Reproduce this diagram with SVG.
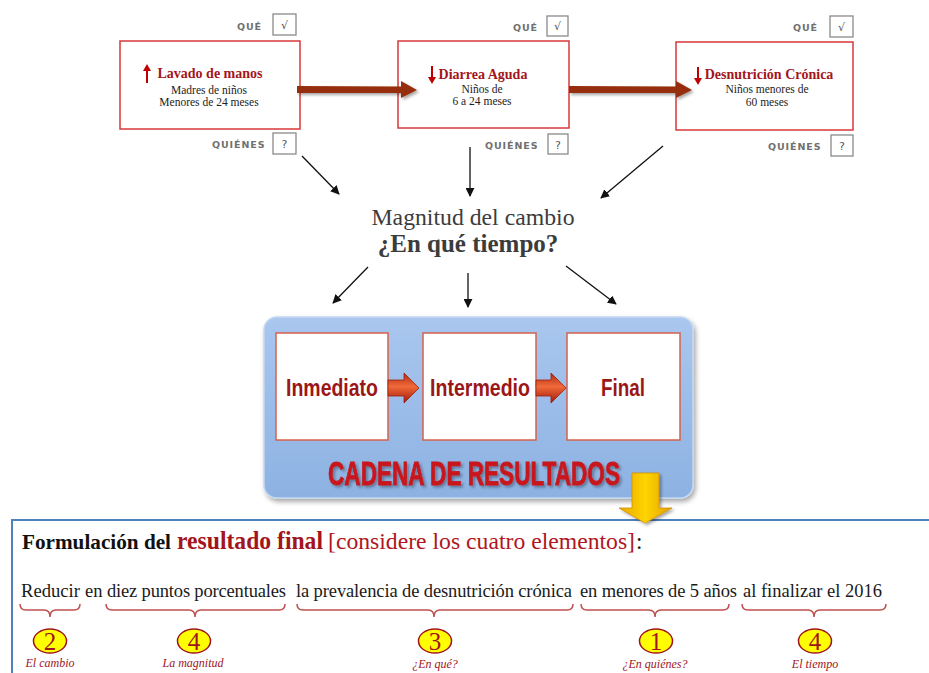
<svg xmlns="http://www.w3.org/2000/svg" width="929" height="673" viewBox="0 0 929 673">
<defs>
<marker id="ah" viewBox="0 0 10 10" refX="9" refY="5" markerWidth="9" markerHeight="9" markerUnits="userSpaceOnUse" orient="auto">
<path d="M0,0 L10,5 L0,10 z" fill="#111"/>
</marker>
<linearGradient id="blueG" x1="0" y1="0" x2="0" y2="1">
<stop offset="0" stop-color="#a9c7ef"/>
<stop offset="1" stop-color="#8db2e2"/>
</linearGradient>
<linearGradient id="redArr" x1="0" y1="0" x2="0" y2="1">
<stop offset="0" stop-color="#b02a10"/>
<stop offset="0.45" stop-color="#f06a3a"/>
<stop offset="1" stop-color="#a01808"/>
</linearGradient>
<linearGradient id="yelArr" x1="0" y1="0" x2="1" y2="0">
<stop offset="0" stop-color="#e8a800"/>
<stop offset="0.5" stop-color="#ffd400"/>
<stop offset="1" stop-color="#e0a000"/>
</linearGradient>
<filter id="sh" x="-10%" y="-10%" width="130%" height="130%">
<feDropShadow dx="2" dy="3" stdDeviation="2.5" flood-color="#000" flood-opacity="0.35"/>
</filter>
<filter id="shs" x="-10%" y="-30%" width="130%" height="180%">
<feDropShadow dx="2" dy="2" stdDeviation="1.5" flood-color="#000" flood-opacity="0.35"/>
</filter>
</defs>
<style>
.topbox{fill:#fff;stroke:#d9383a;stroke-width:1.5}
.ttl{font-family:"Liberation Serif",serif;font-weight:bold;font-size:14px;fill:#a3151b}
.sub{font-family:"Liberation Serif",serif;font-size:11.5px;fill:#222}
.lbl{font-family:"DejaVu Sans",sans-serif;font-weight:bold;font-size:9.5px;fill:#707070;letter-spacing:0.9px}
.chk{fill:#fff;stroke:#8a8a8a;stroke-width:1.3}
.chkt{font-family:"DejaVu Sans",sans-serif;font-size:11px;fill:#555}
.conn{stroke:#111;stroke-width:1.3;fill:none}
.inner{fill:#fff;stroke:#d8604a;stroke-width:1.5}
.innt{font-family:"Liberation Sans",sans-serif;font-weight:bold;font-size:23px;fill:#9b1616}
.sent{font-family:"Liberation Serif",serif;font-size:18.5px;fill:#1a1a1a}
.brace{fill:none;stroke:#c0504d;stroke-width:1.5}
.num{fill:#ffff00;stroke:#a0151b;stroke-width:1.5}
.numt{font-family:"Liberation Serif",serif;font-size:25px;fill:#a0151b}
.cap{font-family:"Liberation Serif",serif;font-style:italic;font-size:12px;fill:#a0151b}
</style>
<rect x="0" y="0" width="929" height="673" fill="#fff"/>

<!-- Top nodes -->
<g id="node-lavado">
<rect class="topbox" x="120" y="41" width="180" height="88"/>
<path d="M147,83 L147,70" stroke="#c00000" stroke-width="2"/>
<path d="M143,71 L147,64 L151,71 z" fill="#c00000"/>
<text class="ttl" x="210" y="78" text-anchor="middle">Lavado de manos</text>
<text class="sub" x="209" y="94" text-anchor="middle">Madres de niños</text>
<text class="sub" x="209" y="106" text-anchor="middle">Menores de 24 meses</text>
<text class="lbl" x="237" y="30">QUÉ</text>
<rect class="chk" x="273" y="14" width="23" height="21"/>
<text class="chkt" x="284.5" y="29" text-anchor="middle">√</text>
<text class="lbl" x="212" y="148">QUIÉNES</text>
<rect class="chk" x="273" y="133" width="23" height="21"/>
<text class="chkt" x="284.5" y="148" text-anchor="middle">?</text>
</g>

<g id="node-diarrea">
<rect class="topbox" x="398" y="41" width="171" height="87"/>
<path d="M432,66 L432,78" stroke="#c00000" stroke-width="2"/>
<path d="M428,77 L432,84 L436,77 z" fill="#c00000"/>
<text class="ttl" x="483" y="79" text-anchor="middle">Diarrea Aguda</text>
<text class="sub" x="482" y="93" text-anchor="middle">Niños de</text>
<text class="sub" x="482" y="105" text-anchor="middle">6 a 24 meses</text>
<text class="lbl" x="513" y="31">QUÉ</text>
<rect class="chk" x="547" y="16" width="21" height="20"/>
<text class="chkt" x="557.5" y="30" text-anchor="middle">√</text>
<text class="lbl" x="485" y="149">QUIÉNES</text>
<rect class="chk" x="548" y="134" width="20" height="20"/>
<text class="chkt" x="558" y="149" text-anchor="middle">?</text>
</g>

<g id="node-desnutricion">
<rect class="topbox" x="676" y="42" width="177" height="88"/>
<path d="M698,67 L698,79" stroke="#c00000" stroke-width="2"/>
<path d="M694,78 L698,85 L702,78 z" fill="#c00000"/>
<text class="ttl" x="769" y="79" text-anchor="middle">Desnutrición Crónica</text>
<text class="sub" x="767" y="93" text-anchor="middle">Niños menores de</text>
<text class="sub" x="767" y="106" text-anchor="middle">60 meses</text>
<text class="lbl" x="793" y="31">QUÉ</text>
<rect class="chk" x="830" y="16" width="23" height="21"/>
<text class="chkt" x="841.5" y="31" text-anchor="middle">√</text>
<text class="lbl" x="768" y="150">QUIÉNES</text>
<rect class="chk" x="831" y="135" width="22" height="21"/>
<text class="chkt" x="842" y="150" text-anchor="middle">?</text>
</g>

<!-- Center text node -->
<g id="node-magnitud">
<text x="473" y="225" text-anchor="middle" font-family="Liberation Serif, serif" font-size="23.5" fill="#3c3c3c" textLength="203" lengthAdjust="spacingAndGlyphs">Magnitud del cambio</text>
<text x="468" y="252" text-anchor="middle" font-family="Liberation Serif, serif" font-size="25" font-weight="bold" fill="#3c3c3c">¿En qué tiempo?</text>
</g>

<!-- Cadena de resultados -->
<g id="node-cadena">
<rect x="264" y="317" width="429" height="181" rx="13" fill="url(#blueG)" stroke="#c3d7f2" stroke-width="1.5" filter="url(#sh)"/>
<g id="node-inmediato">
<rect class="inner" x="276" y="333" width="112" height="107"/>
<text class="innt" x="332" y="396" text-anchor="middle" textLength="92" lengthAdjust="spacingAndGlyphs">Inmediato</text>
</g>
<g id="node-intermedio">
<rect class="inner" x="423" y="333" width="113" height="107"/>
<text class="innt" x="480" y="396" text-anchor="middle" textLength="100" lengthAdjust="spacingAndGlyphs">Intermedio</text>
</g>
<g id="node-final">
<rect class="inner" x="567" y="333" width="113" height="107"/>
<text class="innt" x="623" y="396" text-anchor="middle" textLength="44" lengthAdjust="spacingAndGlyphs">Final</text>
</g>
<text x="474" y="485" text-anchor="middle" font-family="Liberation Sans, sans-serif" font-weight="bold" font-size="34" fill="#c8161d" stroke="#c8161d" stroke-width="0.8" textLength="292" lengthAdjust="spacingAndGlyphs" filter="url(#shs)">CADENA DE RESULTADOS</text>
</g>

<!-- Bottom formulation -->
<g id="node-formulacion">
<rect x="12" y="520" width="930" height="170" fill="#fff" stroke="#4f81bd" stroke-width="2"/>
<text x="22" y="549" font-family="Liberation Serif, serif" font-size="21" font-weight="bold" fill="#111" textLength="149" lengthAdjust="spacingAndGlyphs">Formulación del</text>
<text x="177" y="549" font-family="Liberation Serif, serif" font-size="25" font-weight="bold" fill="#a3151b" textLength="146" lengthAdjust="spacingAndGlyphs">resultado final</text>
<text x="328" y="549" font-family="Liberation Serif, serif" font-size="23" fill="#b0161e" textLength="307" lengthAdjust="spacingAndGlyphs">[considere los cuatro elementos]</text>
<text x="636" y="549" font-family="Liberation Serif, serif" font-size="23" fill="#111">:</text>

<text class="sent" x="21" y="597" textLength="59" lengthAdjust="spacingAndGlyphs">Reducir</text>
<text class="sent" x="85" y="597">en</text>
<text class="sent" x="107" y="597" textLength="179" lengthAdjust="spacing">diez puntos porcentuales</text>
<text class="sent" x="296" y="597" textLength="276" lengthAdjust="spacing">la prevalencia de desnutrición crónica</text>
<text class="sent" x="580" y="597" textLength="157" lengthAdjust="spacing">en menores de 5 años</text>
<text class="sent" x="743" y="597" textLength="139" lengthAdjust="spacing">al finalizar el 2016</text>

<path class="brace" d="M20,604 q0,6 6,6 L44,610 q6,0 6,7 q0,-7 6,-7 L74,610 q6,0 6,-6"/>
<path class="brace" d="M106,604 q0,6 6,6 L189,610 q6,0 6,7 q0,-7 6,-7 L279,610 q6,0 6,-6"/>
<path class="brace" d="M297,604 q0,6 6,6 L428,610 q6,0 6,7 q0,-7 6,-7 L567,610 q6,0 6,-6"/>
<path class="brace" d="M581,604 q0,6 6,6 L649,610 q6,0 6,7 q0,-7 6,-7 L723,610 q6,0 6,-6"/>
<path class="brace" d="M742,604 q0,6 6,6 L808,610 q6,0 6,7 q0,-7 6,-7 L880,610 q6,0 6,-6"/>

<ellipse class="num" cx="50" cy="641" rx="16.5" ry="12"/>
<text class="numt" x="50" y="650" text-anchor="middle">2</text>
<ellipse class="num" cx="194" cy="641" rx="16.5" ry="12"/>
<text class="numt" x="194" y="650" text-anchor="middle">4</text>
<ellipse class="num" cx="435" cy="641" rx="16.5" ry="12"/>
<text class="numt" x="435" y="650" text-anchor="middle">3</text>
<ellipse class="num" cx="656" cy="641" rx="16.5" ry="12"/>
<text class="numt" x="656" y="650" text-anchor="middle">1</text>
<ellipse class="num" cx="815" cy="641" rx="16.5" ry="12"/>
<text class="numt" x="815" y="650" text-anchor="middle">4</text>

<text class="cap" x="50" y="667" text-anchor="middle">El cambio</text>
<text class="cap" x="193" y="667" text-anchor="middle">La magnitud</text>
<text class="cap" x="435" y="668" text-anchor="middle">¿En qué?</text>
<text class="cap" x="655" y="668" text-anchor="middle">¿En quiénes?</text>
<text class="cap" x="815" y="668" text-anchor="middle">El tiempo</text>
</g>

<!-- Connectors -->
<g id="connectors">
<path d="M297,86 L401,86.5 L401,81 L417,90 L401,98 L401,93 L297,93 z" fill="#962f0a" filter="url(#shs)"/>
<path d="M569,86 L676,86.5 L676,81 L692,90 L676,98 L676,93 L569,93 z" fill="#962f0a" filter="url(#shs)"/>
<line class="conn" x1="302" y1="156" x2="339" y2="194" marker-end="url(#ah)"/>
<line class="conn" x1="470" y1="147" x2="470" y2="196" marker-end="url(#ah)"/>
<line class="conn" x1="663" y1="146" x2="601" y2="198" marker-end="url(#ah)"/>
<line class="conn" x1="368" y1="267" x2="333" y2="303" marker-end="url(#ah)"/>
<line class="conn" x1="468" y1="273" x2="468" y2="307" marker-end="url(#ah)"/>
<line class="conn" x1="566" y1="266" x2="616" y2="304" marker-end="url(#ah)"/>
<path d="M388,380 L404,380 L404,373 L419,388 L404,403 L404,396 L388,396 z" fill="url(#redArr)" stroke="#a02010" stroke-width="0.8"/>
<path d="M536,380 L551,380 L551,373 L566,388 L551,403 L551,396 L536,396 z" fill="url(#redArr)" stroke="#a02010" stroke-width="0.8"/>
<path d="M632,473 L659,473 L659,508 L672,508 L645,523 L619,508 L632,508 z" fill="url(#yelArr)" stroke="#d09000" stroke-width="0.8" filter="url(#shs)"/>
</g>
</svg>
